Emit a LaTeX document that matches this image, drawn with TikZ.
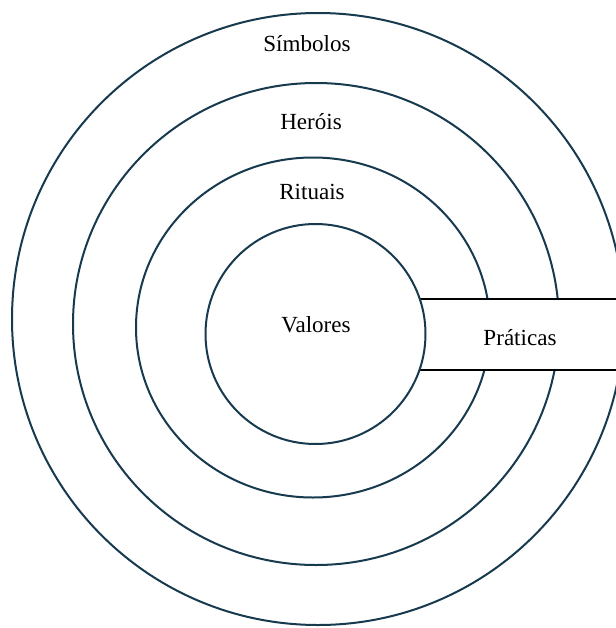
\documentclass[tikz,border=0pt]{standalone}
\usepackage{fontspec}
\setmainfont{Liberation Serif}
\usepackage{xcolor}
\usepackage{tikz}

\definecolor{ringblue}{HTML}{173A4E}

\tikzset{
  ring/.style={draw=ringblue,line width=1.5pt},
  band/.style={draw=black,line width=1.5pt},
  lbl/.style={font=\fontsize{17.3}{20}\selectfont,text=black,inner sep=0pt}
}

\begin{document}
\begin{tikzpicture}[x=0.75pt,y=-0.75pt]
    \clip (0,0) rectangle (616,628);
    \fill[white] (0,0) rectangle (616,628);
    % outer rings
    \draw[ring] (318,319) ellipse [x radius=306,y radius=306];
    \draw[ring] (316,324) ellipse [x radius=243,y radius=241];
    \draw[ring] (313,327.5) ellipse [x radius=177,y radius=170];
    % band for the practices
    \fill[white] (400,299) rectangle (640,370);
    \coordinate (bandtl) at (400,299);
    \coordinate (bandtr) at (640,299);
    \coordinate (bandbl) at (400,370);
    \coordinate (bandbr) at (640,370);
    \draw[band] (bandtl) -- (bandtr);
    \draw[band] (bandbl) -- (bandbr);
    % core
    \draw[ring,fill=white] (315.5,334) ellipse [x radius=110,y radius=110];
    % labels
    \node[lbl] (simbolos) at (307,44) {Símbolos};
    \node[lbl] (herois) at (311,122) {Heróis};
    \node[lbl] (rituais) at (312,192) {Rituais};
    \node[lbl] (valores) at (316,325) {Valores};
    \node[lbl] (praticas) at (520,338) {Práticas};
  \end{tikzpicture}
\end{document}
